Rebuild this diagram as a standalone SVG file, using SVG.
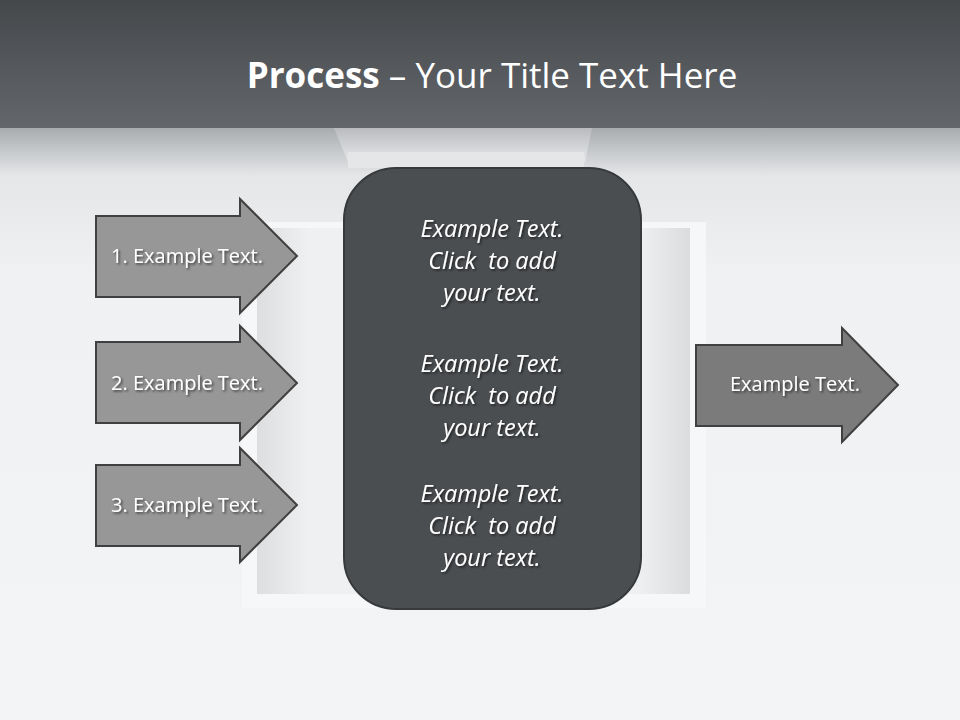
<svg xmlns="http://www.w3.org/2000/svg" width="960" height="720" viewBox="0 0 960 720">
<defs>
<linearGradient id="hdr" x1="0" y1="0" x2="0" y2="1">
<stop offset="0" stop-color="#45484b"/>
<stop offset="1" stop-color="#63676b"/>
</linearGradient>
<linearGradient id="bg" x1="0" y1="0" x2="0" y2="1">
<stop offset="0" stop-color="#a9acaf"/>
<stop offset="0.08" stop-color="#e4e6e8"/>
<stop offset="0.25" stop-color="#eff1f3"/>
<stop offset="1" stop-color="#f3f4f6"/>
</linearGradient>
<linearGradient id="well" x1="0" y1="0" x2="1" y2="0">
<stop offset="0" stop-color="#dcdee0"/>
<stop offset="0.12" stop-color="#eef0f2"/>
<stop offset="0.88" stop-color="#eef0f2"/>
<stop offset="1" stop-color="#dadcde"/>
</linearGradient>
<linearGradient id="chute" x1="0" y1="0" x2="0" y2="1">
<stop offset="0" stop-color="#b9bbbe"/>
<stop offset="1" stop-color="#e6e8ea"/>
</linearGradient>
<filter id="ts" x="-10%" y="-30%" width="130%" height="170%">
<feDropShadow dx="1.5" dy="1.5" stdDeviation="1.2" flood-color="#000" flood-opacity="0.6"/>
</filter>
</defs>
<style>
.arr{fill:#979797;stroke:#404040;stroke-width:2}
.arrd{fill:#7b7b7b;stroke:#404040;stroke-width:2}
.lbl{font-family:"Open Sans","Noto Sans",sans-serif;font-size:20px;fill:#ffffff;text-anchor:middle}
.ctr{font-family:"Open Sans","Noto Sans",sans-serif;font-size:23.5px;font-style:italic;fill:#ffffff;text-anchor:middle;white-space:pre}
</style>
<rect x="0" y="0" width="960" height="720" fill="#f3f4f6"/>
<rect x="0" y="128" width="960" height="592" fill="url(#bg)"/>
<!-- background cut-away -->
<rect x="242" y="222" width="464" height="386" fill="#f6f7f8"/>
<rect x="257" y="228" width="433" height="366" fill="url(#well)"/>
<polygon points="334,128 592,128 585,162 348,162" fill="url(#chute)"/>
<rect x="348" y="152" width="236" height="16" fill="#e4e6e8"/>
<rect x="0" y="0" width="960" height="128" fill="url(#hdr)"/>
<text x="492" y="88" font-family="Open Sans,Noto Sans,sans-serif" font-size="35" fill="#ffffff" text-anchor="middle"><tspan font-weight="bold">Process</tspan> – Your Title Text Here</text>
<g id="connectors"/>
<g id="in1">
<polygon class="arr" points="96,216 240,216 240,199 297,256 240,313 240,297 96,297"/>
<text class="lbl" x="187" y="263" filter="url(#ts)">1. Example Text.</text>
</g>
<g id="in2">
<polygon class="arr" points="96,342 240,342 240,326 297,383 240,440 240,423 96,423"/>
<text class="lbl" x="187" y="390" filter="url(#ts)">2. Example Text.</text>
</g>
<g id="in3">
<polygon class="arr" points="96,465 240,465 240,448 297,505 240,562 240,546 96,546"/>
<text class="lbl" x="187" y="512" filter="url(#ts)">3. Example Text.</text>
</g>
<g id="process">
<rect x="344" y="168" width="297" height="441" rx="52" ry="52" fill="#4b4e51" stroke="#37393b" stroke-width="2"/>
<g filter="url(#ts)">
<text class="ctr" x="492" y="237">Example Text.</text>
<text class="ctr" x="492" y="269" xml:space="preserve">Click  to add</text>
<text class="ctr" x="492" y="301">your text.</text>
<text class="ctr" x="492" y="372">Example Text.</text>
<text class="ctr" x="492" y="404" xml:space="preserve">Click  to add</text>
<text class="ctr" x="492" y="436">your text.</text>
<text class="ctr" x="492" y="502">Example Text.</text>
<text class="ctr" x="492" y="534" xml:space="preserve">Click  to add</text>
<text class="ctr" x="492" y="566">your text.</text>
</g>
</g>
<g id="out">
<polygon class="arrd" points="696,345 842,345 842,328 898,385 842,442 842,426 696,426"/>
<text class="lbl" x="795" y="391" filter="url(#ts)">Example Text.</text>
</g>
</svg>
